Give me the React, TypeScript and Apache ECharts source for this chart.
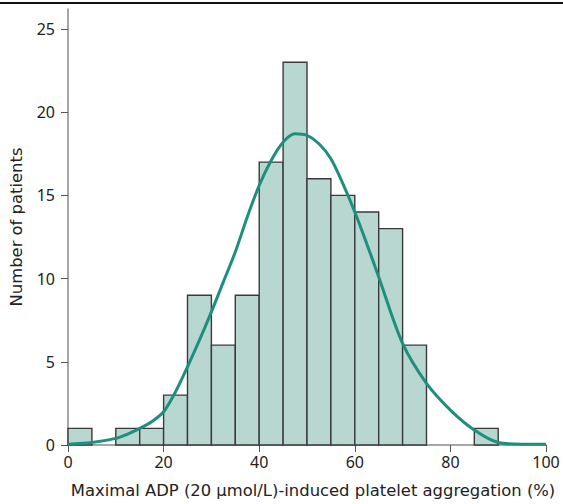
import React, { useEffect, useRef } from "react";
import * as echarts from "echarts";

// Histogram bins (start of each 5%-wide bin) and patient counts
const binStarts = [0, 5, 10, 15, 20, 25, 30, 35, 40, 45, 50, 55, 60, 65, 70, 75, 80, 85, 90, 95];
const binCounts = [1, 0, 1, 1, 3, 9, 6, 9, 17, 23, 16, 15, 14, 13, 6, 0, 0, 1, 0, 0];
const binWidth = 5;

// Fitted distribution curve
const curveX = [0, 5, 10, 12.5, 15, 17.5, 20, 22.5, 25, 27.5, 30, 32.5, 35, 37.5, 40, 42.5, 45, 47.5, 50, 52.5, 55, 57.5, 60, 62.5, 65, 70, 75, 80, 85, 90, 95, 100];
const curveY = [0.05, 0.15, 0.4, 0.66, 1.0, 1.4, 2.0, 3.2, 4.7, 6.3, 8.0, 9.8, 11.6, 13.7, 15.6, 17.1, 18.2, 18.7, 18.6, 18.1, 17.2, 15.7, 14.0, 12.1, 10.1, 6.1, 3.7, 2.1, 0.9, 0.15, 0.05, 0.05];

const xTicks = [0, 20, 40, 60, 80, 100];
const yTicks = [0, 5, 10, 15, 20, 25];

const FONT = "Noto Sans";
const NAME_FONT = "DejaVu Sans";

export default function App() {
  const ref = useRef<HTMLDivElement>(null);
  useEffect(() => {
    document.body.style.margin = "0";
    const chart = echarts.init(ref.current!, null, { renderer: "svg" });
    const barData = binStarts
      .map((s, i) => [s, s + binWidth, binCounts[i]])
      .filter((d) => d[2] > 0);
    chart.setOption({
      animation: false,
      textStyle: { fontFamily: FONT },
      grid: { left: 67, right: 17, top: 9, bottom: 59 },
      graphic: [
        {
          type: "rect",
          left: 0,
          top: 2,
          shape: { width: 563, height: 2 },
          style: { fill: "#111" },
          silent: true,
        },
      ],
      xAxis: {
        type: "value",
        min: 0,
        max: 100,
        interval: 20,
        name: "Maximal ADP (20 μmol/L)-induced platelet aggregation (%)",
        nameLocation: "middle",
        nameGap: 37,
        nameTextStyle: { fontSize: 16.4, color: "#222", fontFamily: NAME_FONT, padding: [0, 0, 0, 12] },
        axisLine: { show: true, onZero: false, lineStyle: { color: "#888", width: 1.5 } },
        axisTick: { show: true, length: 7, lineStyle: { color: "#555", width: 1 }, customValues: xTicks },
        axisLabel: { fontSize: 16, color: "#222", margin: 9, fontFamily: FONT, customValues: xTicks },
        splitLine: { show: false },
      },
      yAxis: {
        type: "value",
        min: 0,
        max: 26.2,
        name: "Number of patients",
        nameLocation: "middle",
        nameGap: 44,
        nameTextStyle: { fontSize: 16.4, color: "#222", fontFamily: NAME_FONT },
        axisLine: { show: true, lineStyle: { color: "#888", width: 1.5 } },
        axisTick: { show: true, length: 7, lineStyle: { color: "#555", width: 1 }, customValues: yTicks },
        axisLabel: { fontSize: 16, color: "#222", margin: 13, fontFamily: FONT, customValues: yTicks },
        splitLine: { show: false },
      },
      series: [
        {
          type: "custom",
          data: barData,
          renderItem: (params: any, api: any) => {
            const p0 = api.coord([api.value(0), api.value(2)]);
            const p1 = api.coord([api.value(1), 0]);
            return {
              type: "rect",
              shape: { x: p0[0], y: p0[1], width: p1[0] - p0[0], height: p1[1] - p0[1] },
              style: { fill: "#b9d7d1", stroke: "#3a3a3a", lineWidth: 1.4 },
            };
          },
          z: 2,
        },
        {
          type: "line",
          data: curveX.map((x, i) => [x, curveY[i]]),
          smooth: 0.3,
          showSymbol: false,
          symbol: "none",
          lineStyle: { color: "#1d8f7c", width: 3 },
          z: 3,
        },
      ],
    });
    return () => chart.dispose();
  }, []);
  return <div ref={ref} style={{ width: 563, height: 504 }} />;
}
